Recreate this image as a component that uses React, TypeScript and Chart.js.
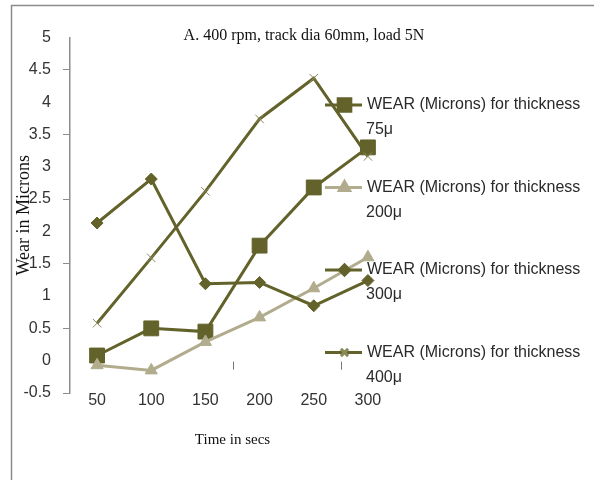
import { useEffect, useRef } from 'react';
import { Chart, registerables } from 'chart.js';
import { drawPoint } from 'chart.js/helpers';

Chart.register(...registerables);

// Test time (s) on the horizontal axis
const timeSecs = ['50', '100', '150', '200', '250', '300'];

// Wear in microns for each coating thickness
const wear75 = [0.08, 0.5, 0.45, 1.78, 2.68, 3.3];
const wear200 = [-0.07, -0.15, 0.29, 0.67, 1.12, 1.6];
const wear300 = [2.13, 2.81, 1.19, 1.21, 0.85, 1.24];
const wear400 = [0.58, 1.59, 2.62, 3.74, 4.37, 3.16];

const seriesPrefix = 'WEAR (Microns) for thickness';
const thicknessNames = ['75μ', '200μ', '300μ', '400μ'];

const chartTitle = 'A. 400 rpm, track dia 60mm, load 5N';
const yAxisTitle = 'Wear in Microns';
const xAxisTitle = 'Time in secs';

const yMin = -0.5;
const yMax = 5;
const yStep = 0.5;

const OLIVE = '#62622a';
const KHAKI = '#b1ac8d';
const SANS = '"Liberation Sans", Arial, sans-serif';
const SERIF = '"Liberation Serif", "Times New Roman", serif';

// Frame, titles, zero-line tick marks and the wrapped legend
const decorations = {
  id: 'decorations',
  beforeDraw(chart: any) {
    const { ctx, width, height } = chart;
    ctx.save();
    ctx.fillStyle = '#ffffff';
    ctx.fillRect(0, 0, width, height);
    ctx.strokeStyle = '#8c8c8c';
    ctx.lineWidth = 1.5;
    ctx.beginPath();
    ctx.moveTo(11.5, height);
    ctx.lineTo(11.5, 5.5);
    ctx.lineTo(width, 5.5);
    ctx.stroke();
    ctx.restore();
  },
  afterDraw(chart: any) {
    const { ctx, chartArea, scales } = chart;
    const x = scales.x;
    const y = scales.y;
    ctx.save();

    // tick marks hanging below the zero line
    const zeroY = y.getPixelForValue(0);
    ctx.strokeStyle = '#777777';
    ctx.lineWidth = 1;
    [2.5, 4.5].forEach((v) => {
      const px = Math.round(x.getPixelForValue(v)) + 0.5;
      ctx.beginPath();
      ctx.moveTo(px, zeroY + 1);
      ctx.lineTo(px, zeroY + 9);
      ctx.stroke();
    });

    // chart title
    ctx.fillStyle = '#111111';
    ctx.textAlign = 'center';
    ctx.textBaseline = 'middle';
    ctx.font = `16px ${SERIF}`;
    ctx.fillText(chartTitle, 304, 36);

    // axis titles
    ctx.font = `15px ${SERIF}`;
    ctx.fillText(xAxisTitle, (chartArea.left + chartArea.right) / 2, 440);
    ctx.save();
    ctx.translate(24, (chartArea.top + chartArea.bottom) / 2);
    ctx.rotate(-Math.PI / 2);
    ctx.font = `18px ${SERIF}`;
    ctx.fillText(yAxisTitle, 0, 0);
    ctx.restore();

    // legend
    const lineX0 = 325;
    const lineX1 = 362;
    const textX = 367;
    const firstY = 105;
    const rowGap = 82.5;
    chart.data.datasets.forEach((ds: any, i: number) => {
      const cy = firstY + i * rowGap;
      ctx.strokeStyle = ds.borderColor;
      ctx.lineWidth = ds.borderWidth;
      ctx.beginPath();
      ctx.moveTo(lineX0, cy);
      ctx.lineTo(lineX1, cy);
      ctx.stroke();
      ctx.fillStyle = ds.pointBackgroundColor;
      ctx.strokeStyle = ds.pointBorderColor;
      drawPoint(
        ctx,
        {
          pointStyle: ds.pointStyle,
          rotation: 0,
          radius: ds.pointRadius * 0.85,
          borderWidth: ds.pointBorderWidth,
        },
        (lineX0 + lineX1) / 2 + 1,
        cy
      );
      ctx.fillStyle = '#2a2a2a';
      ctx.textAlign = 'left';
      ctx.textBaseline = 'middle';
      ctx.font = `16px ${SANS}`;
      ctx.fillText(seriesPrefix, textX, cy);
      ctx.fillText(thicknessNames[i], textX - 1, cy + 25);
    });

    ctx.restore();
  },
};

export default function App() {
  const canvasRef = useRef<HTMLCanvasElement | null>(null);

  useEffect(() => {
    document.body.style.margin = '0';
    const canvas = canvasRef.current;
    if (!canvas) return;

    const chart = new Chart(canvas, {
      type: 'line',
      data: {
        labels: timeSecs,
        datasets: [
          {
            label: `${seriesPrefix} ${thicknessNames[0]}`,
            data: wear75,
            borderColor: OLIVE,
            borderWidth: 3,
            pointStyle: 'rect',
            pointRadius: 10.5,
            pointBorderWidth: 1,
            pointBackgroundColor: OLIVE,
            pointBorderColor: OLIVE,
            order: 4,
          },
          {
            label: `${seriesPrefix} ${thicknessNames[1]}`,
            data: wear200,
            borderColor: KHAKI,
            borderWidth: 3,
            pointStyle: 'triangle',
            pointRadius: 7,
            pointBorderWidth: 1,
            pointBackgroundColor: KHAKI,
            pointBorderColor: KHAKI,
            order: 3,
          },
          {
            label: `${seriesPrefix} ${thicknessNames[2]}`,
            data: wear300,
            borderColor: OLIVE,
            borderWidth: 3,
            pointStyle: 'rectRot',
            pointRadius: 6,
            pointBorderWidth: 1,
            pointBackgroundColor: OLIVE,
            pointBorderColor: OLIVE,
            order: 2,
          },
          {
            label: `${seriesPrefix} ${thicknessNames[3]}`,
            data: wear400,
            borderColor: OLIVE,
            borderWidth: 3,
            pointStyle: 'crossRot',
            pointRadius: 6,
            pointBorderWidth: 1,
            pointBackgroundColor: OLIVE,
            pointBorderColor: '#8a8a5a',
            order: 1,
          },
        ],
      },
      options: {
        responsive: false,
        animation: false,
        layout: { padding: { top: 37.5, right: 199, bottom: 0, left: 0 } },
        plugins: {
          legend: { display: false },
          title: { display: false },
          tooltip: { enabled: false },
        },
        elements: { line: { tension: 0 } },
        scales: {
          x: {
            type: 'category',
            offset: true,
            grid: { display: false, drawTicks: false },
            border: { display: false },
            ticks: {
              color: '#333333',
              font: { family: SANS, size: 16 },
              padding: -2,
              maxRotation: 0,
            },
            afterFit: (s: any) => {
              s.height = 87;
            },
          },
          y: {
            min: yMin,
            max: yMax,
            ticks: {
              stepSize: yStep,
              color: '#333333',
              font: { family: SANS, size: 16 },
              padding: 12,
              callback: (v: any) => String(Math.round(Number(v) * 10) / 10),
            },
            grid: {
              drawOnChartArea: false,
              tickLength: 7,
              tickColor: (c: any) =>
                c.tick && Math.abs(c.tick.value % 1) === 0.5 ? '#8c8c8c' : 'rgba(0,0,0,0)',
            },
            border: { color: '#8c8c8c', width: 1.5 },
            afterFit: (s: any) => {
              s.width = 70;
            },
          },
        },
      },
      plugins: [decorations],
    });

    return () => chart.destroy();
  }, []);

  return (
    <div style={{ position: 'absolute', left: 0, top: 0, width: 594, height: 480 }}>
      <canvas ref={canvasRef} width={594} height={480} />
    </div>
  );
}
